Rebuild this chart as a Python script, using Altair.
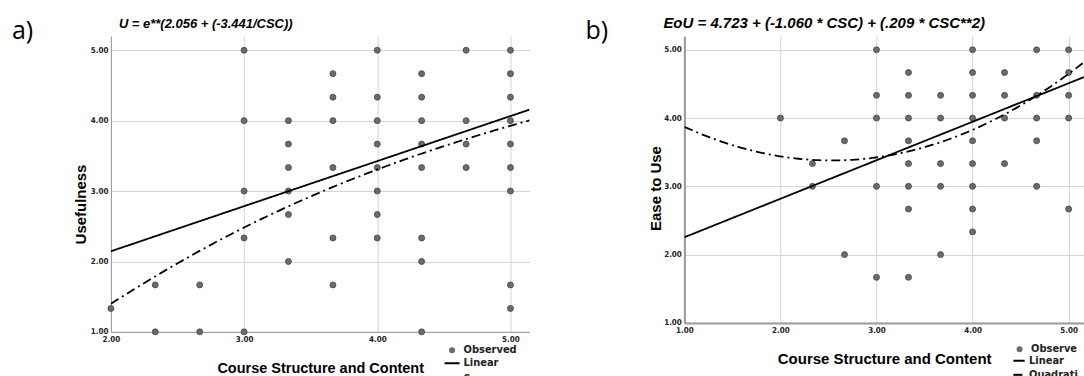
import altair as alt
import numpy as np
import pandas as pd

# ---------------- data ----------------
# Panel a) Usefulness vs Course Structure and Content
a_csc = [2.0,
         2.333, 2.333,
         2.667, 2.667,
         3.0, 3.0, 3.0, 3.0, 3.0,
         3.333, 3.333, 3.333, 3.333, 3.333, 3.333,
         3.667, 3.667, 3.667, 3.667, 3.667, 3.667,
         4.0, 4.0, 4.0, 4.0, 4.0, 4.0, 4.0, 4.0,
         4.333, 4.333, 4.333, 4.333, 4.333, 4.333, 4.333, 4.333,
         4.667, 4.667, 4.667, 4.667,
         5.0, 5.0, 5.0, 5.0, 5.0, 5.0, 5.0, 5.0, 5.0]
a_u = [1.333,
       1.667, 1.0,
       1.667, 1.0,
       5.0, 4.0, 3.0, 2.333, 1.0,
       4.0, 3.667, 3.333, 3.0, 2.667, 2.0,
       4.667, 4.333, 4.0, 3.333, 2.333, 1.667,
       5.0, 4.333, 4.0, 3.667, 3.333, 3.0, 2.667, 2.333,
       4.667, 4.333, 4.0, 3.667, 3.333, 2.333, 2.0, 1.0,
       5.0, 4.0, 3.667, 3.333,
       5.0, 4.667, 4.333, 4.0, 3.667, 3.333, 3.0, 1.667, 1.333]

# Panel b) Ease to Use vs Course Structure and Content
b_csc = [2.0,
         2.333, 2.333,
         2.667, 2.667,
         3.0, 3.0, 3.0, 3.0, 3.0,
         3.333, 3.333, 3.333, 3.333, 3.333, 3.333, 3.333, 3.333,
         3.667, 3.667, 3.667, 3.667, 3.667,
         4.0, 4.0, 4.0, 4.0, 4.0, 4.0, 4.0, 4.0, 4.0,
         4.333, 4.333, 4.333, 4.333,
         4.667, 4.667, 4.667, 4.667, 4.667,
         5.0, 5.0, 5.0, 5.0, 5.0]
b_eou = [4.0,
         3.333, 3.0,
         3.667, 2.0,
         5.0, 4.333, 4.0, 3.0, 1.667,
         4.667, 4.333, 4.0, 3.667, 3.333, 3.0, 2.667, 1.667,
         4.333, 4.0, 3.333, 3.0, 2.0,
         5.0, 4.667, 4.333, 4.0, 3.667, 3.333, 3.0, 2.667, 2.333,
         4.667, 4.333, 4.0, 3.333,
         5.0, 4.333, 4.0, 3.667, 3.0,
         5.0, 4.667, 4.333, 4.0, 2.667]

# fitted models: coefficients from the chart titles /
a_linear = [0.865, 0.64]          # intercept, slope
a_s_curve = [2.056, -3.441]       # U = exp(b0 + b1/CSC)
b_linear = [1.69, 0.564]
b_quad = [4.723, -1.060, 0.209]   # EoU = b0 + b1*CSC + b2*CSC^2

a_xdom = [2.0, 5.143]
b_xdom = [1.0, 5.16]
ydom = [1.0, 5.2]
ticks_a_x = [2, 3, 4, 5]
ticks_b_x = [1, 2, 3, 4, 5]
ticks_y = [1, 2, 3, 4, 5]

a_title = "U = e**(2.056 + (-3.441/CSC))"
b_title = "EoU = 4.723 + (-1.060 * CSC) + (.209 * CSC**2)"

FONT = "Liberation Sans, Arial, sans-serif"
NARROW = "Liberation Sans Narrow, DejaVu Sans Condensed, Arial Narrow, sans-serif"

# ---------------- tables ----------------
dfa = pd.DataFrame({"csc": a_csc, "val": a_u, "kind": "Observed"})
dfb = pd.DataFrame({"csc": b_csc, "val": b_eou, "kind": "Observed"})

xa = np.linspace(a_xdom[0], a_xdom[1], 120)
la = pd.concat([
    pd.DataFrame({"csc": xa, "val": a_linear[0] + a_linear[1] * xa, "model": "Linear"}),
    pd.DataFrame({"csc": xa, "val": np.exp(a_s_curve[0] + a_s_curve[1] / xa), "model": "S"}),
])
xb = np.linspace(b_xdom[0], b_xdom[1], 120)
lb = pd.concat([
    pd.DataFrame({"csc": xb, "val": b_linear[0] + b_linear[1] * xb, "model": "Linear"}),
    pd.DataFrame({"csc": xb, "val": b_quad[0] + b_quad[1] * xb + b_quad[2] * xb ** 2, "model": "Quadratic"}),
])


def panel(pts, lines, xdom, xticks, width, height, ytitle, title_text, title_size, title_dx,
          letter, models, dom_width, ytitle_x, ytitle_y, xtitle_size, xtitle_pad, leg,
          label_expr=None):
    xaxis = alt.Axis(values=xticks, format=".2f", title="Course Structure and Content",
                     ticks=False, labelFlush=False, labelFont=NARROW, labelFontWeight="bold",
                     labelFontSize=8, labelColor="#222", labelPadding=4, titleFont=FONT,
                     titleFontSize=xtitle_size, titleFontWeight="bold", titleColor="black",
                     titlePadding=xtitle_pad, domainColor="#999", domainWidth=dom_width,
                     gridColor="#d4d4d4")
    yaxis = alt.Axis(values=ticks_y, format=".2f", title=ytitle, ticks=False, labelFlush=False,
                     labelFont=NARROW, labelFontWeight="bold", labelFontSize=8, labelColor="#222",
                     labelPadding=3, titleFont=FONT, titleFontSize=15, titleFontWeight="bold",
                     titleColor="black", titleX=ytitle_x, titleY=ytitle_y,
                     domainColor="#999", domainWidth=dom_width, gridColor="#d4d4d4")
    xs = alt.Scale(domain=xdom, nice=False, zero=False)
    ys = alt.Scale(domain=ydom, nice=False, zero=False)

    obs_kw = dict(orient="none", legendX=leg[0], legendY=leg[1], title=None,
                  labelFont=NARROW, labelFontWeight="bold", labelFontSize=11,
                  labelColor="#222", labelOffset=6, symbolSize=36,
                  symbolFillColor="#6b6b6b", symbolStrokeColor="#444",
                  symbolStrokeWidth=0.8, padding=0)
    line_kw = dict(orient="none", legendX=leg[2], legendY=leg[3], title=None,
                   labelFont=NARROW, labelFontWeight="bold", labelFontSize=11,
                   labelColor="#222", labelOffset=3, symbolType="stroke",
                   symbolSize=leg[4], symbolStrokeColor="black", symbolStrokeWidth=2,
                   rowPadding=2, padding=0)
    if label_expr:
        obs_kw["labelExpr"] = label_expr
        line_kw["labelExpr"] = label_expr

    points = alt.Chart(pts).mark_point(filled=True, fill="#6b6b6b", stroke="#444",
                                       strokeWidth=0.8, size=36, opacity=1).encode(
        x=alt.X("csc:Q", scale=xs, axis=xaxis),
        y=alt.Y("val:Q", scale=ys, axis=yaxis),
        shape=alt.Shape("kind:N", scale=alt.Scale(domain=["Observed"], range=["circle"]),
                        legend=alt.Legend(**obs_kw)),
    )
    curves = alt.Chart(lines).mark_line(color="black", strokeWidth=1.8, clip=True).encode(
        x=alt.X("csc:Q", scale=xs),
        y=alt.Y("val:Q", scale=ys),
        strokeDash=alt.StrokeDash("model:N", scale=alt.Scale(domain=models,
                                                              range=[[1, 0], [9, 4, 2, 4]]),
                                  legend=alt.Legend(**line_kw)),
    )
    lab = alt.Chart(pd.DataFrame({"t": [letter]})).mark_text(
        align="left", baseline="alphabetic", fontSize=25,
        font="Open Sans, Liberation Sans, sans-serif", color="black"
    ).encode(text="t:N", x=alt.value(-99), y=alt.value(3))
    ttl = alt.Chart(pd.DataFrame({"t": [title_text]})).mark_text(
        align="left", baseline="alphabetic", fontSize=title_size, font=FONT,
        fontStyle="italic", fontWeight="bold", color="black"
    ).encode(text="t:N", x=alt.value(title_dx), y=alt.value(-8))

    return alt.layer(points, curves, lab, ttl).properties(width=width, height=height)


pa = panel(dfa, la, a_xdom, ticks_a_x, 419, 296, "Usefulness", a_title, 13, 8, "a)",
           ["Linear", "S"], 1, -22, 168, 14.5, 18, [336, 309, 333, 319, 225])
pb = panel(dfb, lb, b_xdom, ticks_b_x, 400, 287, "Ease to Use", b_title, 15, -21, "b)",
           ["Linear", "Quadratic"], 2, -21, 152, 15, 17, [330, 308, 328, 318, 128],
           label_expr="datum.label == 'Observed' ? 'Observe' : datum.label == 'Quadratic' ? 'Quadrati' : datum.label")

chart = alt.hconcat(pa, pb, spacing=56).resolve_scale(
    x="independent", y="independent", shape="independent", strokeDash="independent"
).resolve_legend(shape="independent", strokeDash="independent").properties(
    padding={"left": 12, "top": 16, "right": 0, "bottom": 0}, background="white"
).configure_view(stroke=None)

chart.save("out.html", embed_options={"renderer": "svg", "actions": False})
